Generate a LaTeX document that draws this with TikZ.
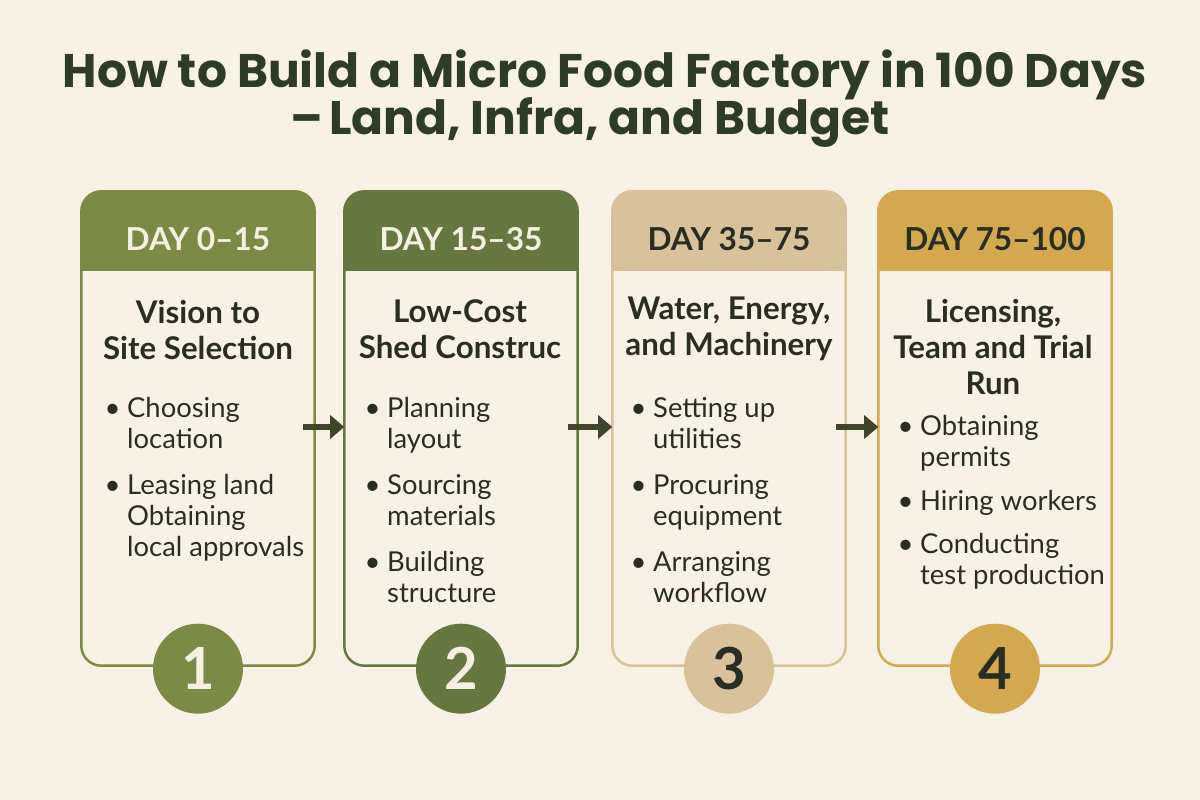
\documentclass[tikz,border=0pt]{standalone}
\usepackage{fontspec}
\setmainfont{Lato}
\newfontfamily\titlefont{Poppins}
\usetikzlibrary{arrows.meta,positioning}

\definecolor{paper}{HTML}{F8F2E6}
\definecolor{ink}{HTML}{2A2E22}
\definecolor{titleink}{HTML}{2E3B26}
\definecolor{arrowink}{HTML}{3E4528}
\definecolor{olive}{HTML}{7B8A45}
\definecolor{moss}{HTML}{66783F}
\definecolor{sand}{HTML}{D8C29A}
\definecolor{gold}{HTML}{D3A84E}
\definecolor{cream}{HTML}{F6F0E0}

\newcommand{\itm}{\makebox[6.4pt][l]{\textbullet}}
\newcommand{\cnt}{\hspace*{6.4pt}}

\tikzset{
  title/.style={font=\titlefont\bfseries\fontsize{13.4}{16}\selectfont, text=titleink, inner sep=0},
  card/.style={rectangle, minimum width=2.32cm, minimum height=4.73cm, inner sep=0},
  daylabel/.style={font=\bfseries\fontsize{9}{10}\selectfont, inner sep=0},
  heading/.style={font=\bfseries\fontsize{8.9}{10.2}\selectfont, text=ink, align=center, inner sep=0},
  list/.style={font=\fontsize{7.8}{8.8}\selectfont, text=ink, align=left, inner sep=0, anchor=north west},
  stepnum/.style={circle, minimum size=0.9cm, inner sep=0, font=\bfseries\fontsize{16.5}{18}\selectfont},
  flow/.style={-{Triangle[length=4pt,width=6.5pt]}, line width=1.7pt, arrowink}
}

\begin{document}
\begin{tikzpicture}
\fill[paper] (0,0) rectangle (12,-8);
\useasboundingbox (0,0) rectangle (12,-8);

% Draw title.
\node[title] (title1) at (6.05,-0.75) {How to Build a Micro Food Factory in 100 Days};
\node[title, anchor=west] (title2) at (2.90,-1.23) {–\hspace{0.12em}Land, Infra, and Budget};

% Draw cards with their header bands and step circles.
\foreach \i/\x/\col/\txt/\lbl in {1/1.98/olive/cream/DAY 0–15, 2/4.61/moss/cream/DAY 15–35,
                                  3/7.29/sand/ink/DAY 35–75, 4/9.95/gold/ink/DAY 75–100}
{
    \node[card, fill=paper] (card\i) at (\x,-4.285) {};
    \begin{scope}
        \clip[rounded corners=0.2cm] (card\i.south west) rectangle (card\i.north east);
        \fill[\col] (card\i.north west) rectangle ([yshift=-0.8cm]card\i.north east);
    \end{scope}
    \draw[\col, line width=0.7pt, rounded corners=0.2cm] (card\i.south west) rectangle (card\i.north east);
    \node[daylabel, text=\txt] (day\i) at ([yshift=-0.48cm]card\i.north) {\lbl};
    \node[stepnum, fill=\col, text=\txt] (num\i) at ([yshift=-0.03cm]card\i.south) {\i};
}

% Draw stage headings.
\node[heading] (head1) at (1.98,-3.30) {Vision to\\Site Selection};
\node[heading] (head2) at (4.60,-3.29) {Low-Cost\\Shed Construc};
\node[heading] (head3) at (7.29,-3.29) {Water, Energy,\\and Machinery};
\node[heading] (head4) at (9.93,-3.47) {Licensing,\\Team and Trial\\Run};

% Draw task lists.
\node[list] (list1) at (1.04,-3.97)
    {\itm Choosing\\ \cnt location\\[4.3pt] \itm Leasing land\\ \cnt Obtaining\\ \cnt local approvals};
\node[list] (list2) at (3.64,-3.97)
    {\itm Planning\\ \cnt layout\\[4.3pt] \itm Sourcing\\ \cnt materials\\[4.3pt] \itm Building\\ \cnt structure};
\node[list] (list3) at (6.30,-3.97)
    {\itm Setting up\\ \cnt utilities\\[4.3pt] \itm Procuring\\ \cnt equipment\\[4.3pt] \itm Arranging\\ \cnt workflow};
\node[list] (list4) at (8.97,-4.15)
    {\itm Obtaining\\ \cnt permits\\[3.5pt] \itm Hiring workers\\[3.5pt] \itm Conducting\\ \cnt test production};

% Draw arrows between stages.
\coordinate (out1) at (3.03,-4.27);
\coordinate (out2) at (5.68,-4.27);
\coordinate (out3) at (8.36,-4.27);
\draw[flow] (out1) -- (card2.west |- out1);
\draw[flow] (out2) -- (card3.west |- out2);
\draw[flow] (out3) -- (card4.west |- out3);

\end{tikzpicture}
\end{document}
